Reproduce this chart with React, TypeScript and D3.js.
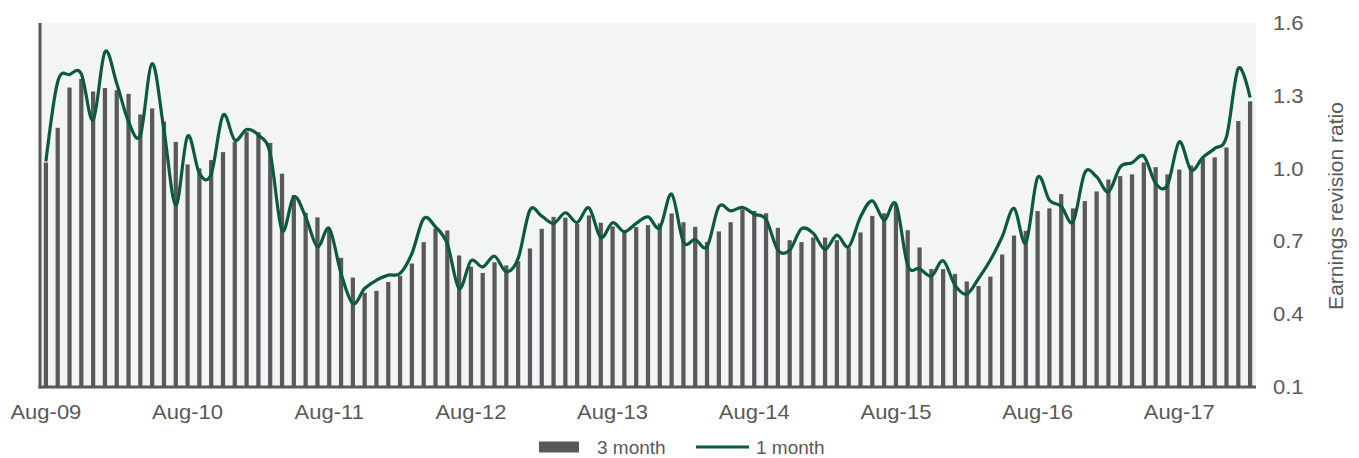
import { useEffect, useRef } from 'react';
import * as d3 from 'd3';

// Monthly categories, Aug-09 .. Feb-18
const months = d3.timeMonth
  .range(new Date(2009, 7, 1), new Date(2018, 2, 1))
  .map(d => d3.timeFormat("%b-%y")(d));

const xTickLabels = ["Aug-09", "Aug-10", "Aug-11", "Aug-12", "Aug-13", "Aug-14", "Aug-15", "Aug-16", "Aug-17"];
const yTicks = [0.1, 0.4, 0.7, 1.0, 1.3, 1.6];

// 3 month earnings revision ratio (bars)
const threeMonth = [
  1.025, 1.168, 1.334, 1.37, 1.318, 1.332, 1.323, 1.308, 1.223, 1.248,
  1.194, 1.110, 1.017, 1.001, 1.035, 1.068, 1.110, 1.152, 1.150, 1.106,
  0.979, 0.891, 0.818, 0.799, 0.747, 0.632, 0.551, 0.488, 0.496, 0.533,
  0.558, 0.609, 0.697, 0.753, 0.745, 0.642, 0.596, 0.570, 0.614, 0.601,
  0.618, 0.671, 0.752, 0.801, 0.798, 0.772, 0.807, 0.777, 0.762, 0.736,
  0.759, 0.767, 0.774, 0.815, 0.779, 0.760, 0.698, 0.741, 0.779, 0.832,
  0.826, 0.816, 0.756, 0.705, 0.697, 0.716, 0.716, 0.705, 0.672, 0.737,
  0.805, 0.816, 0.850, 0.746, 0.675, 0.586, 0.586, 0.566, 0.535, 0.516,
  0.555, 0.646, 0.724, 0.744, 0.825, 0.836, 0.895, 0.836, 0.866, 0.906,
  0.955, 0.969, 0.976, 1.025, 1.006, 0.976, 0.996, 1.013, 1.042, 1.046,
  1.087, 1.196, 1.277,
];

// 1 month earnings revision ratio (line)
const oneMonth = [
  1.030, 1.358, 1.388, 1.390, 1.200, 1.481, 1.351, 1.193, 1.138, 1.433,
  1.159, 0.849, 1.134, 0.980, 0.977, 1.220, 1.117, 1.161, 1.138, 1.062,
  0.746, 0.884, 0.801, 0.678, 0.753, 0.568, 0.444, 0.506, 0.540, 0.561,
  0.568, 0.650, 0.794, 0.760, 0.690, 0.506, 0.620, 0.595, 0.639, 0.575,
  0.630, 0.829, 0.804, 0.774, 0.818, 0.778, 0.838, 0.716, 0.777, 0.740,
  0.774, 0.801, 0.757, 0.895, 0.698, 0.708, 0.678, 0.843, 0.826, 0.840,
  0.812, 0.790, 0.664, 0.664, 0.752, 0.733, 0.667, 0.726, 0.678, 0.801,
  0.867, 0.788, 0.854, 0.602, 0.588, 0.557, 0.620, 0.520, 0.483, 0.547,
  0.623, 0.719, 0.836, 0.694, 0.963, 0.870, 0.845, 0.781, 0.983, 0.966,
  0.904, 1.007, 1.024, 1.051, 0.939, 0.932, 1.110, 0.994, 1.046, 1.083,
  1.131, 1.413, 1.293,
];

const GREY = "#595959";
const GREEN = "#0b5a3c";
const FONT = "'Liberation Sans', Arial, sans-serif";

export default function App() {
  const svgRef = useRef<SVGSVGElement>(null);

  useEffect(() => {
    if (!svgRef.current) return;
    const svg = d3.select(svgRef.current);
    svg.selectAll("*").remove();

    const left = 40, right = 1256, top = 23, bottom = 387;

    const x = d3.scaleBand<string>()
      .domain(months)
      .range([left, right])
      .paddingInner(0.64)
      .paddingOuter(0.32);
    const cx = (m: string) => (x(m) ?? 0) + x.bandwidth() / 2;

    const y = d3.scaleLinear().domain([0.1, 1.6]).range([bottom, top]);

    // plot background
    svg.append("rect")
      .attr("x", left).attr("y", top)
      .attr("width", right - left).attr("height", bottom - top)
      .attr("fill", "#f2f4f6");

    // bars
    svg.append("g")
      .selectAll("rect")
      .data(threeMonth)
      .join("rect")
      .attr("x", (_, i) => x(months[i]) ?? 0)
      .attr("y", d => y(d))
      .attr("width", x.bandwidth())
      .attr("height", d => y(0.1) - y(d))
      .attr("fill", GREY);

    // axis lines
    svg.append("line")
      .attr("x1", left).attr("x2", left)
      .attr("y1", top).attr("y2", bottom + 1.5)
      .attr("stroke", GREY).attr("stroke-width", 3);
    svg.append("line")
      .attr("x1", left - 1.5).attr("x2", right)
      .attr("y1", bottom).attr("y2", bottom)
      .attr("stroke", GREY).attr("stroke-width", 3);

    // line
    const line = d3.line<number>()
      .x((_, i) => cx(months[i]))
      .y(d => y(d))
      .curve(d3.curveCardinal.tension(0));
    svg.append("path")
      .datum(oneMonth)
      .attr("d", line)
      .attr("fill", "none")
      .attr("stroke", GREEN)
      .attr("stroke-width", 3.2)
      .attr("stroke-linejoin", "round");

    // right y-axis labels
    svg.append("g")
      .selectAll("text")
      .data(yTicks)
      .join("text")
      .attr("transform", d => `translate(1273,${y(d)}) scale(1.1,1)`)
      .attr("dy", "0.35em")
      .text(d => d.toFixed(1))
      .attr("fill", GREY)
      .style("font-family", FONT)
      .style("font-size", "20px");

    svg.append("text")
      .attr("transform", `translate(1343,${(top + bottom) / 2 + 1}) rotate(-90)`)
      .attr("text-anchor", "middle")
      .text("Earnings revision ratio")
      .attr("fill", GREY)
      .style("font-family", FONT)
      .style("font-size", "21px");

    // x labels
    svg.append("g")
      .selectAll("text")
      .data(xTickLabels)
      .join("text")
      .attr("transform", d => `translate(${cx(d)},419) scale(1.1,1)`)
      .attr("text-anchor", "middle")
      .text(d => d)
      .attr("fill", GREY)
      .style("font-family", FONT)
      .style("font-size", "20px");

    // legend
    const legend = svg.append("g").attr("transform", "translate(539,447)");
    legend.append("rect")
      .attr("x", 0).attr("y", -5.5).attr("width", 40).attr("height", 11)
      .attr("fill", GREY);
    legend.append("text")
      .attr("x", 58).attr("y", 6.5)
      .text("3 month")
      .attr("fill", GREY)
      .style("font-family", FONT)
      .style("font-size", "19px");
    legend.append("line")
      .attr("x1", 157).attr("x2", 210)
      .attr("y1", 0).attr("y2", 0)
      .attr("stroke", GREEN).attr("stroke-width", 3.2);
    legend.append("text")
      .attr("x", 217).attr("y", 6.5)
      .text("1 month")
      .attr("fill", GREY)
      .style("font-family", FONT)
      .style("font-size", "19px");
  }, []);

  return (
    <div style={{ position: "absolute", left: 0, top: 0, background: "#fff" }}>
      <svg ref={svgRef} width={1359} height={458} style={{ display: "block" }} />
    </div>
  );
}
